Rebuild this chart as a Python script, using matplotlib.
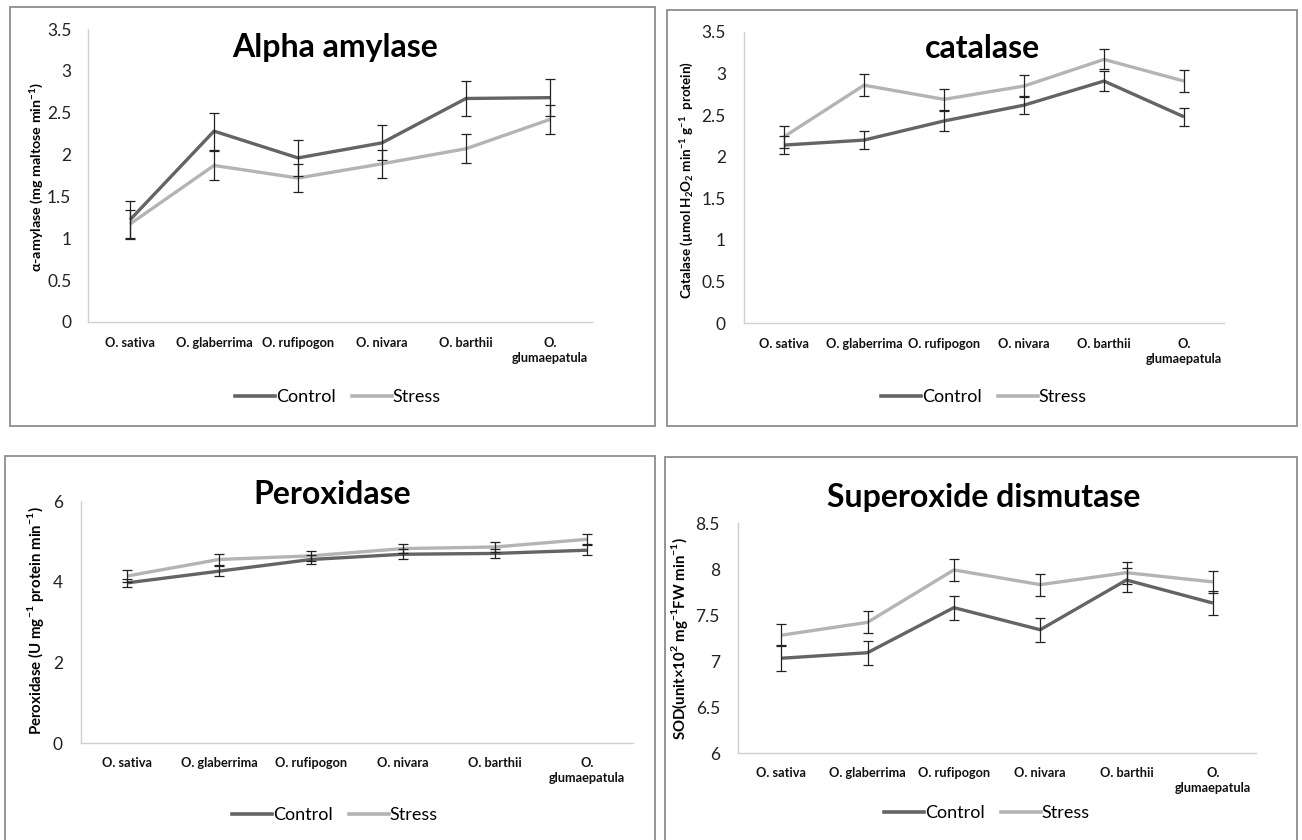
import matplotlib
matplotlib.use('Agg')
import matplotlib.pyplot as plt
from matplotlib.patches import Rectangle
from matplotlib.lines import Line2D

plt.rcParams['font.family'] = ['Lato', 'DejaVu Sans']
plt.rcParams['mathtext.fontset'] = 'custom'
plt.rcParams['mathtext.rm'] = 'Lato'
plt.rcParams['mathtext.bf'] = 'Lato:bold'

categories = ['O. sativa', 'O. glaberrima', 'O. rufipogon', 'O. nivara',
              'O. barthii', 'O.\nglumaepatula']
series_names = ['Control', 'Stress']

amylase_control = [1.22, 2.28, 1.96, 2.14, 2.67, 2.68]
amylase_stress = [1.17, 1.87, 1.72, 1.89, 2.07, 2.42]
amylase_control_err = [0.23, 0.22, 0.22, 0.21, 0.21, 0.22]
amylase_stress_err = [0.17, 0.17, 0.17, 0.17, 0.17, 0.17]

catalase_control = [2.14, 2.20, 2.43, 2.62, 2.91, 2.48]
catalase_stress = [2.24, 2.86, 2.69, 2.85, 3.17, 2.91]
catalase_control_err = [0.11, 0.11, 0.12, 0.11, 0.12, 0.11]
catalase_stress_err = [0.13, 0.13, 0.13, 0.13, 0.12, 0.13]

peroxidase_control = [3.97, 4.26, 4.55, 4.68, 4.70, 4.78]
peroxidase_stress = [4.14, 4.55, 4.64, 4.82, 4.86, 5.05]
peroxidase_control_err = [0.10, 0.12, 0.12, 0.13, 0.12, 0.12]
peroxidase_stress_err = [0.14, 0.13, 0.12, 0.11, 0.12, 0.12]

sod_control = [7.03, 7.09, 7.58, 7.34, 7.88, 7.63]
sod_stress = [7.28, 7.42, 7.99, 7.83, 7.96, 7.86]
sod_control_err = [0.14, 0.13, 0.13, 0.13, 0.13, 0.13]
sod_stress_err = [0.12, 0.12, 0.12, 0.12, 0.12, 0.12]

amylase_ticks = [0, 0.5, 1, 1.5, 2, 2.5, 3, 3.5]
catalase_ticks = [0, 0.5, 1, 1.5, 2, 2.5, 3, 3.5]
peroxidase_ticks = [0, 2, 4, 6]
sod_ticks = [6, 6.5, 7, 7.5, 8, 8.5]

W, H = 1302, 840
CTRL = '#646464'
STRS = '#b4b4b4'
AXC = '#d0d0d0'

fig = plt.figure(figsize=(W / 100, H / 100), dpi=100)


def fx(x):
    return x / W


def fy(y):
    return 1 - y / H


def panel(box, plot, title, title_xy, ylabel, ylabel_xy, ylabel_size,
          legend_xy, ctrl, strs, ctrl_err, strs_err, ticks, xlabel_pad,
          ylab_pad):
    # frame around the panel
    l, t, r, b = box
    fig.patches.append(Rectangle((fx(l), fy(b)), fx(r - l), (b - t) / H,
                                 transform=fig.transFigure, fill=False,
                                 edgecolor='#8c8c8c', linewidth=1.3))
    l, t, r, b = plot
    ax = fig.add_axes([fx(l), fy(b), fx(r - l), (b - t) / H])
    x = range(len(categories))
    ax.plot(x, ctrl, color=CTRL, lw=2.4, solid_capstyle='butt', zorder=2)
    ax.plot(x, strs, color=STRS, lw=2.4, solid_capstyle='butt', zorder=2)
    ax.errorbar(x, ctrl, yerr=ctrl_err, fmt='none', ecolor='#222222',
                elinewidth=0.9, capsize=3.3, capthick=0.9, zorder=3)
    ax.errorbar(x, strs, yerr=strs_err, fmt='none', ecolor='#222222',
                elinewidth=0.9, capsize=3.3, capthick=0.9, zorder=3)
    ax.set_xlim(-0.5, len(categories) - 0.5)
    ax.set_ylim(ticks[0], ticks[-1])
    ax.set_yticks(ticks)
    ax.set_yticklabels(['%g' % v for v in ticks])
    ax.set_xticks(list(x))
    ax.set_xticklabels(categories, fontsize=9.2, fontweight='bold',
                       linespacing=1.3)
    ax.tick_params(axis='x', length=0, pad=xlabel_pad, colors='#111111')
    ax.tick_params(axis='y', length=0, pad=ylab_pad, labelsize=12.5,
                   colors='#222222')
    for s in ['top', 'right']:
        ax.spines[s].set_visible(False)
    for s in ['left', 'bottom']:
        ax.spines[s].set_color(AXC)
        ax.spines[s].set_linewidth(1.0)
    ax.patch.set_alpha(0)
    fig.text(fx(title_xy[0]), fy(title_xy[1]), title, fontsize=23,
             fontweight='bold', ha='center', va='center', color='black')
    fig.text(fx(ylabel_xy[0]), fy(ylabel_xy[1]), ylabel, fontsize=ylabel_size,
             fontweight='bold', rotation=90, ha='center', va='center')
    handles = [Line2D([], [], color=CTRL, lw=2.6),
               Line2D([], [], color=STRS, lw=2.6)]
    fig.legend(handles, series_names, loc='center',
               bbox_to_anchor=(fx(legend_xy[0]), fy(legend_xy[1])),
               ncol=2, frameon=False, fontsize=13, handlelength=2.2,
               handletextpad=0.05, columnspacing=0.9)
    return ax


panel((10, 7, 655, 426), (88, 29, 592, 322), 'Alpha amylase', (335, 47),
      r'α-amylase (mg maltose min$^{\mathbf{-1}}$)', (36, 177), 10.3,
      (338, 397),
      amylase_control, amylase_stress, amylase_control_err,
      amylase_stress_err, amylase_ticks, 11, 12)

panel((667, 10, 1297, 426), (744, 32, 1224, 323), 'catalase', (982, 48),
      r'Catalase (µmol H$_{\mathbf{2}}$O$_{\mathbf{2}}$ min$^{\mathbf{-1}}$ g$^{\mathbf{-1}}$  protein)',
      (687, 180), 9.6, (984, 397),
      catalase_control, catalase_stress, catalase_control_err,
      catalase_stress_err, catalase_ticks, 11, 13)

panel((5, 456, 655, 842), (81, 501, 633, 743), 'Peroxidase', (332, 495),
      r'Peroxidase (U mg$^{\mathbf{-1}}$ protein min$^{\mathbf{-1}}$)',
      (36, 621), 10.8, (335, 815),
      peroxidase_control, peroxidase_stress, peroxidase_control_err,
      peroxidase_stress_err, peroxidase_ticks, 10, 13)

panel((665, 457, 1297, 842), (738, 523, 1256, 753), 'Superoxide dismutase',
      (984, 497),
      r'SOD(unit×10$^{\mathbf{2}}$ mg$^{\mathbf{-1}}$FW min$^{\mathbf{-1}}$)',
      (680, 638), 10.8, (987, 813),
      sod_control, sod_stress, sod_control_err, sod_stress_err, sod_ticks,
      10, 13)

fig.savefig('out.png', dpi=100, facecolor='white')
